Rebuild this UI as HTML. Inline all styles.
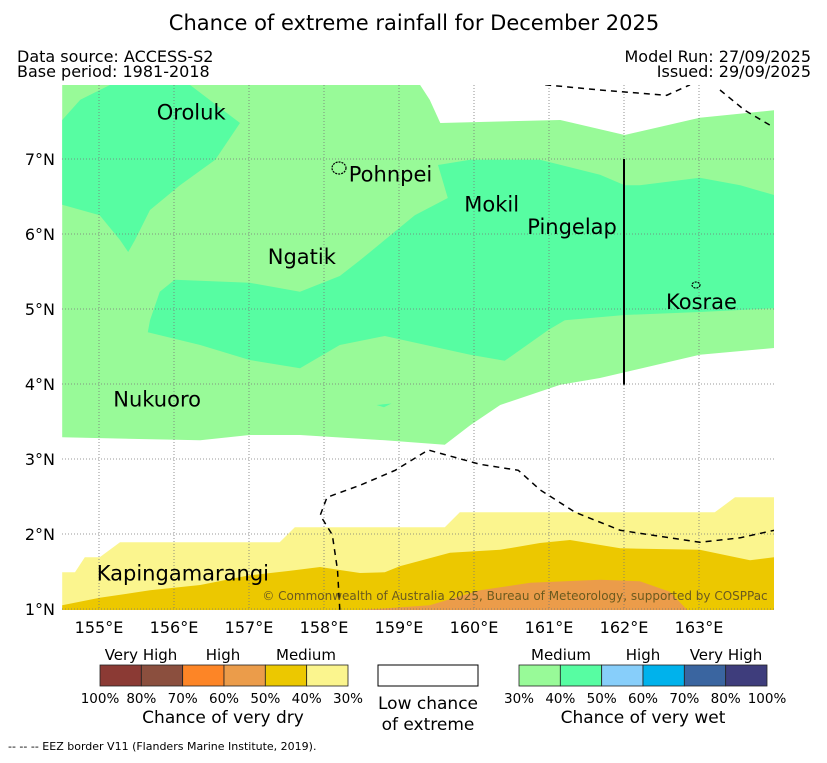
<!DOCTYPE html>
<html><head><meta charset="utf-8"><style>
body{margin:0;background:#fff;}
svg text{font-family:"DejaVu Sans","Liberation Sans",sans-serif;}
</style></head><body>
<svg id="s" width="827" height="758" viewBox="0 0 827 758" xmlns="http://www.w3.org/2000/svg">
<defs><clipPath id="mc"><rect x="62" y="85" width="712" height="525"/></clipPath></defs>
<text x="414" y="30" text-anchor="middle" font-size="21">Chance of extreme rainfall for December 2025</text>
<text x="17" y="62" font-size="16">Data source: ACCESS-S2</text>
<text x="17" y="77" font-size="16">Base period: 1981-2018</text>
<text x="811" y="62" font-size="16" text-anchor="end">Model Run: 27/09/2025</text>
<text x="811" y="77" font-size="16" text-anchor="end">Issued: 29/09/2025</text>
<g id="map" clip-path="url(#mc)"></g>
<g id="axes"></g>
<g font-size="15">
 <g id="dry"></g>
 <g id="wet"></g>
 <text x="141" y="660" text-anchor="middle">Very High</text>
 <text x="223" y="660" text-anchor="middle">High</text>
 <text x="306" y="660" text-anchor="middle">Medium</text>
 <text x="223" y="723" text-anchor="middle" font-size="17">Chance of very dry</text>
 <rect x="378" y="665" width="100" height="21" fill="#fff" stroke="#000"/>
 <text x="428" y="709" text-anchor="middle" font-size="17">Low chance</text>
 <text x="428" y="730" text-anchor="middle" font-size="17">of extreme</text>
 <text x="561" y="660" text-anchor="middle">Medium</text>
 <text x="643" y="660" text-anchor="middle">High</text>
 <text x="726" y="660" text-anchor="middle">Very High</text>
 <text x="643" y="723" text-anchor="middle" font-size="17">Chance of very wet</text>
 <text x="8" y="750" font-size="11">--  --  -- EEZ border V11 (Flanders Marine Institute, 2019).</text>
</g>
</svg>
<script>
const lonTicks=[155,156,157,158,159,160,161,162,163];
const latTicks=[1,2,3,4,5,6,7];
const lightGreen=[[154.51,7.99],[159.28,7.99],[159.41,7.79],[159.55,7.48],[161.15,7.52],[162.01,7.32],[163.01,7.55],[164.0,7.65],[164.0,4.48],[163.01,4.39],[161.68,4.08],[161.15,3.99],[160.35,3.72],[159.95,3.45],[159.61,3.19],[158.81,3.25],[157.68,3.32],[157.01,3.32],[156.35,3.25],[154.51,3.29]];
const darkGreenA=[[154.51,7.52],[154.75,7.79],[155.15,7.99],[156.21,7.99],[156.88,7.48],[156.55,6.99],[156.08,6.65],[155.68,6.32],[155.48,5.92],[155.39,5.76],[155.28,5.92],[155.01,6.25],[154.51,6.39]];
const darkGreenB=[[159.52,6.92],[159.95,6.99],[160.88,6.99],[161.68,6.79],[162.01,6.65],[162.21,6.65],[163.01,6.75],[163.55,6.65],[164.0,6.52],[164.0,5.01],[163.01,4.96],[162.01,4.92],[161.21,4.85],[160.99,4.72],[160.41,4.31],[159.95,4.39],[158.81,4.64],[158.21,4.52],[157.68,4.21],[157.01,4.32],[156.35,4.52],[155.65,4.69],[155.68,4.85],[155.81,5.23],[156.01,5.39],[157.01,5.35],[157.68,5.23],[158.21,5.44],[158.48,5.65],[159.21,6.25],[159.65,6.48],[159.52,6.92]];
const blob=[[158.7,3.72],[158.9,3.74],[158.8,3.69]];
const yellow=[[154.51,1.49],[154.68,1.49],[154.81,1.69],[155.01,1.69],[155.28,1.89],[157.41,1.89],[157.61,2.09],[159.61,2.09],[159.81,2.29],[163.21,2.29],[163.48,2.49],[164.0,2.49],[164.0,0.9],[154.51,0.9]];
const gold=[[154.51,1.05],[155.01,1.15],[155.68,1.25],[156.35,1.32],[157.01,1.45],[157.55,1.51],[157.95,1.56],[158.21,1.52],[158.48,1.48],[158.81,1.49],[159.01,1.57],[159.68,1.75],[160.35,1.79],[160.88,1.88],[161.28,1.92],[161.95,1.81],[163.01,1.79],[163.68,1.65],[164.0,1.69],[164.0,0.9],[154.51,0.9]];
const orange=[[157.95,0.95],[159.41,1.05],[160.08,1.25],[160.75,1.35],[161.68,1.39],[162.21,1.37],[162.61,1.23],[162.88,0.95]];
const eezA=[[158.21,0.99],[158.18,1.52],[158.11,1.99],[157.95,2.25],[158.04,2.49],[158.48,2.65],[158.95,2.85],[159.39,3.12],[160.08,2.93],[160.59,2.85],[160.88,2.59],[161.35,2.29],[161.95,2.05],[163.01,1.89],[163.55,1.95],[164.0,2.05]];
const eezB=[[160.95,7.99],[161.68,7.92],[162.57,7.85],[162.88,7.99]];
const eezC=[[163.28,7.92],[163.61,7.65],[163.95,7.45]];
const islands=[{n:"Oroluk",lon:155.77,lat:7.53,ix:null},{n:"Pohnpei",lon:158.33,lat:6.7,ix:[158.2,6.88]},{n:"Mokil",lon:159.87,lat:6.3,ix:null},{n:"Pingelap",lon:160.71,lat:6.0,ix:null},{n:"Ngatik",lon:157.25,lat:5.6,ix:null},{n:"Kosrae",lon:162.56,lat:5.0,ix:[162.96,5.32]},{n:"Nukuoro",lon:155.19,lat:3.7,ix:null},{n:"Kapingamarangi",lon:154.97,lat:1.38,ix:null}];
const dryColors=["#8b3a34","#8b4f3e","#fd8526","#eb9c4a","#ecc800","#fbf58e"];
const dryLabels=["100%","80%","70%","60%","50%","40%","30%"];
const wetColors=["#98fa98","#57fda2","#87cefa","#00b2ec","#3a65a0","#3e3d7c"];
const wetLabels=["30%","40%","50%","60%","70%","80%","100%"];

const NS="http://www.w3.org/2000/svg";
const X=lon=>99+(lon-155)*75, Y=lat=>609-(lat-1)*75;
function mk(t,a,p){const e=document.createElementNS(NS,t);for(const k in a)e.setAttribute(k,a[k]);p.appendChild(e);return e;}
const map=document.getElementById('map'),axes=document.getElementById('axes');
const pts=a=>a.map(p=>X(p[0]).toFixed(1)+","+Y(p[1]).toFixed(1)).join(" ");
function poly(a,fill,name){const e=mk('polygon',{points:pts(a),fill:fill},map);

}
poly(lightGreen,"#98fa98","wet-medium-30-40-region");
poly(darkGreenA,"#57fda2","wet-40-50-region-north");
poly(darkGreenB,"#57fda2","wet-40-50-region-central");
poly(blob,"#57fda2","wet-40-50-blob");
poly(yellow,"#fbf58e","dry-30-40-region");
poly(gold,"#ecc800","dry-40-50-region");
poly(orange,"#eb9c4a","dry-50-60-region");
lonTicks.forEach(l=>{const e=mk('line',{x1:X(l),x2:X(l),y1:85,y2:610,stroke:"#777","stroke-width":0.8,"stroke-dasharray":"1,2"},map);


const t=mk('text',{x:X(l),y:633,"text-anchor":"middle","font-size":16},axes);t.textContent=l+"°E";

});
latTicks.forEach(l=>{const e=mk('line',{x1:62,x2:774,y1:Y(l),y2:Y(l),stroke:"#777","stroke-width":0.8,"stroke-dasharray":"1,2"},map);


const t=mk('text',{x:55,y:Y(l)+6,"text-anchor":"end","font-size":16},axes);t.textContent=l+"°N";

});
[eezA,eezB,eezC].forEach(a=>{const e=mk('polyline',{points:pts(a),fill:"none",stroke:"#000","stroke-width":1.5,"stroke-dasharray":"6,5"},map);

});
const vl=mk('line',{x1:X(162),x2:X(162),y1:Y(7),y2:Y(3.99),stroke:"#000","stroke-width":2},map);


const cr=mk('text',{x:515,y:600,"text-anchor":"middle","font-size":12,fill:"#6b5a1e"},map);cr.textContent="© Commonwealth of Australia 2025, Bureau of Meteorology, supported by COSPPac";


islands.forEach(i=>{const t=mk('text',{x:X(i.lon),y:Y(i.lat),"font-size":21},map);t.textContent=i.n;


if(i.ix){const c=mk('ellipse',{cx:X(i.ix[0]),cy:Y(i.ix[1]),rx:i.n=="Pohnpei"?7:4,ry:i.n=="Pohnpei"?6:3,fill:"none",stroke:"#000","stroke-width":1.2,"stroke-dasharray":"2,1"},map);

}});
function bar(g,colors,labels,x0){const G=document.getElementById(g),w=248/colors.length;
colors.forEach((c,k)=>{const r=mk('rect',{x:x0+k*w,y:665,width:w,height:21,fill:c,stroke:"#222","stroke-width":0.8},G);

});
labels.forEach((l,k)=>{const t=mk('text',{x:x0+k*w,y:703,"text-anchor":"middle","font-size":13.5},G);t.textContent=l;

});}
bar('dry',dryColors,dryLabels,100);
bar('wet',wetColors,wetLabels,519);
</script>
</body></html>
